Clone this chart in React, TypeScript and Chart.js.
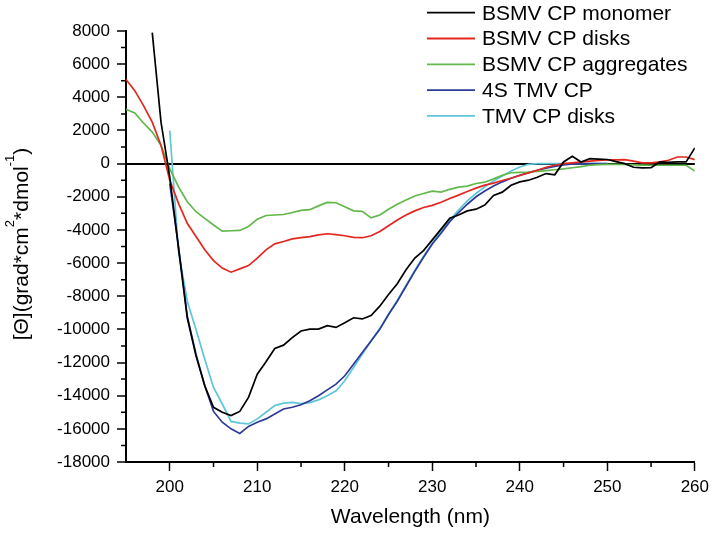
import React, { useEffect, useRef } from "react";
import { Chart, registerables } from "chart.js";

Chart.register(...registerables);

const WAVELENGTHS = [
  195, 196, 197, 198, 199, 200, 201, 202, 203, 204, 205, 206, 207, 208, 209, 210,
  211, 212, 213, 214, 215, 216, 217, 218, 219, 220, 221, 222, 223, 224, 225, 226,
  227, 228, 229, 230, 231, 232, 233, 234, 235, 236, 237, 238, 239, 240, 241, 242,
  243, 244, 245, 246, 247, 248, 249, 250, 251, 252, 253, 254, 255, 256, 257, 258,
  259, 260,
];

const BSMV_MONOMER = [
  null, null, null, 7900, 2500, -800, -5100, -9300, -11600, -13400, -14700, -15000, -15200, -14950, -14100, -12700,
  -11950, -11150, -10950, -10500, -10100, -9980, -9980, -9780, -9880, -9600, -9300, -9370, -9170, -8600, -7900, -7250,
  -6400, -5700, -5250, -4600, -3950, -3300, -3100, -2850, -2750, -2500, -1920, -1720, -1310, -1100, -1000, -820,
  -600, -670, 100, 440, 100, 300, 270, 250, 120, 0, -220, -260, -240, 100, 80, 100,
  100, 950,
];

const BSMV_DISKS = [
  5080, 4400, 3500, 2500, 1100, -1000, -2400, -3600, -4400, -5200, -5850, -6300, -6550, -6350, -6150, -5700,
  -5200, -4840, -4700, -4540, -4470, -4400, -4300, -4230, -4280, -4350, -4450, -4470, -4350, -4100, -3750, -3400,
  -3100, -2850, -2650, -2520, -2330, -2100, -1900, -1680, -1480, -1300, -1180, -1020, -880, -720, -560, -400,
  -220, -100, 0, 50, 100, 150, 200, 220, 230, 240, 150, 40, 50, 100, 200, 400,
  400, 240,
];

const BSMV_AGGREGATES = [
  3270, 3060, 2450, 1900, 1100, -300, -1400, -2300, -2900, -3300, -3700, -4070, -4050, -4030, -3790, -3350,
  -3130, -3100, -3070, -2950, -2820, -2780, -2550, -2340, -2360, -2600, -2850, -2880, -3270, -3100, -2750, -2450,
  -2200, -1950, -1800, -1660, -1720, -1550, -1420, -1360, -1200, -1120, -920, -700, -550, -530, -510, -470,
  -420, -370, -320, -250, -180, -100, -60, -50, -40, -50, -70, -90, -100, -100, -100, -100,
  -100, -450,
];

const TMV_4S = [
  null, null, null, null, null, -1200, -5000, -9200, -11500, -13400, -14950, -15600, -16000, -16280, -15850, -15600,
  -15400, -15100, -14800, -14700, -14550, -14300, -14000, -13650, -13300, -12800, -12100, -11400, -10700, -10000, -9100, -8300,
  -7400, -6500, -5650, -4850, -4200, -3500, -2950, -2450, -2000, -1650, -1350, -1100, -880, -700, -540, -400,
  -280, -170, -80, -20, 0, 0, 0, 0, null, null, null, null, null, null, null, null,
  null, null,
];

const TMV_DISKS = [
  null, null, null, null, null, 2000, -5300, -8300, -10000, -11800, -13500, -14500, -15550, -15650, -15700, -15400,
  -15000, -14600, -14450, -14400, -14480, -14420, -14250, -14000, -13700, -13100, -12300, -11500, -10700, -9950, -9100, -8250,
  -7350, -6450, -5600, -4800, -4100, -3400, -2800, -2250, -1800, -1400, -1050, -750, -450, -200, -40, 0,
  0, 0, 0, 0, 0, 0, 0, 0, null, null, null, null, null, null, null, null,
  null, null,
];

const SERIES_LABELS = [
  "BSMV CP monomer",
  "BSMV CP disks",
  "BSMV CP aggregates",
  "4S TMV CP",
  "TMV CP disks",
];
const SERIES_VALUES = [BSMV_MONOMER, BSMV_DISKS, BSMV_AGGREGATES, TMV_4S, TMV_DISKS];
const SERIES_COLORS = ["#000000", "#e4271f", "#62b84a", "#2e3b96", "#5fc6d9"];

const X_TICKS = [200, 210, 220, 230, 240, 250, 260];
const X_MINOR_TICKS = [205, 215, 225, 235, 245, 255];
const Y_TICKS = [8000, 6000, 4000, 2000, 0, -2000, -4000, -6000, -8000, -10000, -12000, -14000, -16000, -18000];
const Y_MINOR_TICKS = [7000, 5000, 3000, 1000, -1000, -3000, -5000, -7000, -9000, -11000, -13000, -15000, -17000];

const X_TITLE = "Wavelength (nm)";
const Y_TITLE_PARTS: [string, boolean][] = [
  ["[Θ](grad*cm", false],
  ["2", true],
  ["*dmol", false],
  ["-1", true],
  [")", false],
];

const FONT = 'Arial, "Liberation Sans", sans-serif';

const extrasPlugin = {
  id: "extras",
  afterDraw(chart: any) {
    const ctx = chart.ctx as CanvasRenderingContext2D;
    const xs = chart.scales.x;
    const ys = chart.scales.y;
    const area = chart.chartArea;
    ctx.save();

    // minor ticks
    ctx.strokeStyle = "#000";
    ctx.lineWidth = 1.5;
    ctx.beginPath();
    for (const v of X_MINOR_TICKS) {
      const px = xs.getPixelForValue(v);
      ctx.moveTo(px, area.bottom);
      ctx.lineTo(px, area.bottom + 5);
    }
    for (const v of Y_MINOR_TICKS) {
      const py = ys.getPixelForValue(v);
      ctx.moveTo(area.left, py);
      ctx.lineTo(area.left - 5, py);
    }
    ctx.stroke();

    // x title
    ctx.fillStyle = "#000";
    ctx.font = `21px ${FONT}`;
    ctx.textAlign = "center";
    ctx.textBaseline = "alphabetic";
    ctx.fillText(X_TITLE, (area.left + area.right) / 2, 523);

    // y title (rotated, with superscripts)
    const mainFont = `21px ${FONT}`;
    const supFont = `13px ${FONT}`;
    let total = 0;
    for (const [t, sup] of Y_TITLE_PARTS) {
      ctx.font = sup ? supFont : mainFont;
      total += ctx.measureText(t).width;
    }
    ctx.save();
    ctx.translate(28, 244);
    ctx.rotate(-Math.PI / 2);
    ctx.textAlign = "left";
    let cx = -total / 2;
    for (const [t, sup] of Y_TITLE_PARTS) {
      ctx.font = sup ? supFont : mainFont;
      ctx.fillText(t, cx, sup ? -14 : 0);
      cx += ctx.measureText(t).width;
    }
    ctx.restore();

    // legend
    ctx.font = `21px ${FONT}`;
    ctx.textAlign = "left";
    ctx.textBaseline = "alphabetic";
    chart.data.datasets.forEach((ds: any, i: number) => {
      const y = 12.7 + i * 25.8;
      ctx.strokeStyle = ds.borderColor;
      ctx.lineWidth = 1.8;
      ctx.beginPath();
      ctx.moveTo(427, y);
      ctx.lineTo(475, y);
      ctx.stroke();
      ctx.fillStyle = "#000";
      ctx.fillText(ds.label, 482, y + 6.8);
    });

    ctx.restore();
  },
};

export default function App() {
  const canvasRef = useRef<HTMLCanvasElement | null>(null);

  useEffect(() => {
    if (!canvasRef.current) return;
    const datasets = SERIES_LABELS.map((label, i) => ({
      label,
      data: WAVELENGTHS.map((x, j) => ({ x, y: SERIES_VALUES[i][j] })),
      borderColor: SERIES_COLORS[i],
      backgroundColor: SERIES_COLORS[i],
      borderWidth: 1.7,
      pointRadius: 0,
      tension: 0,
      fill: false,
      spanGaps: false,
    }));

    const chart = new Chart(canvasRef.current, {
      type: "line",
      data: { datasets },
      options: {
        animation: false,
        responsive: false,
        maintainAspectRatio: false,
        layout: { padding: { top: 31, right: 18, left: 0, bottom: 0 } },
        plugins: {
          legend: { display: false },
          tooltip: { enabled: false },
        },
        scales: {
          x: {
            type: "linear",
            min: 195,
            max: 260,
            afterBuildTicks: (s: any) => {
              s.ticks = X_TICKS.map((v) => ({ value: v }));
            },
            afterFit: (s: any) => {
              s.height = 71;
            },
            ticks: {
              color: "#000",
              font: { family: FONT, size: 17 },
              padding: 6,
              maxRotation: 0,
              autoSkip: false,
              callback: (v: any) => String(v),
            },
            grid: {
              drawOnChartArea: false,
              drawTicks: true,
              tickLength: 9,
              tickColor: "#000",
              tickWidth: 1.5,
            },
            border: { display: true, color: "#000", width: 2 },
            title: { display: false },
          },
          y: {
            type: "linear",
            min: -18000,
            max: 8000,
            afterBuildTicks: (s: any) => {
              s.ticks = Y_TICKS.map((v) => ({ value: v }));
            },
            afterFit: (s: any) => {
              s.width = 126;
            },
            ticks: {
              color: "#000",
              font: { family: FONT, size: 17 },
              padding: 7,
              autoSkip: false,
              callback: (v: any) => String(v),
            },
            grid: {
              drawOnChartArea: true,
              color: (c: any) => (c.tick && c.tick.value === 0 ? "#000" : "rgba(0,0,0,0)"),
              lineWidth: (c: any) => (c.tick && c.tick.value === 0 ? 2 : 0),
              drawTicks: true,
              tickLength: 9,
              tickColor: "#000",
              tickWidth: 1.5,
            },
            border: { display: true, color: "#000", width: 2 },
            title: { display: false },
          },
        },
      },
      plugins: [extrasPlugin],
    } as any);

    return () => chart.destroy();
  }, []);

  return (
    <div style={{ position: "absolute", left: 0, top: 0, width: 715, height: 533, background: "#fff" }}>
      <canvas ref={canvasRef} width={715} height={533} style={{ width: 715, height: 533 }} />
    </div>
  );
}
